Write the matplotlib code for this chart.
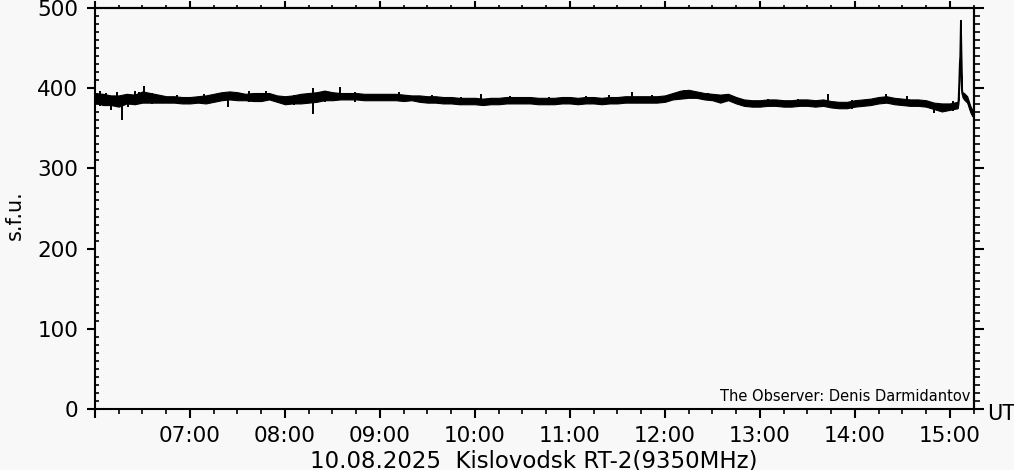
import numpy as np
import matplotlib
matplotlib.use("Agg")
import matplotlib.pyplot as plt
from matplotlib.ticker import MultipleLocator, FuncFormatter

# 5-minute samples from 06:00 to 15:05 (s.f.u.)
sample_start = "06:00"
sample_step_min = 5
flux = [
    388, 386, 385, 384, 387, 386, 389, 388, 387, 386, 386, 385,
    385, 386, 386, 388, 390, 391, 390, 389, 389, 389, 390, 387,
    385, 386, 387, 388, 389, 391, 390, 390, 390, 390, 389, 389,
    389, 389, 389, 388, 388, 387, 386, 386, 385, 385, 384, 384,
    384, 383, 384, 384, 385, 385, 385, 385, 384, 384, 384, 385,
    385, 384, 385, 385, 384, 385, 385, 386, 386, 386, 386, 386,
    387, 390, 392, 393, 392, 390, 389, 387, 389, 385, 382, 381,
    381, 382, 382, 381, 381, 382, 382, 381, 382, 380, 379, 379,
    381, 382, 383, 385, 386, 384, 383, 382, 382, 381, 378, 376,
    377, 379,
]
# half width of the noise band
noise = [
    6, 7, 6, 7, 6, 6, 7, 6, 5, 4, 4, 4,
    4, 4, 5, 5, 5, 5, 5, 4, 5, 5, 4, 4,
    5, 5, 6, 6, 6, 6, 5, 4, 4, 4, 4, 4,
    4, 4, 4, 4, 3, 4, 4, 4, 4, 4, 4, 4,
    4, 4, 4, 4, 4, 4, 4, 4, 4, 4, 4, 4,
    4, 4, 4, 4, 4, 4, 4, 4, 4, 4, 4, 4,
    4, 4, 5, 5, 4, 4, 4, 5, 4, 4, 4, 4,
    4, 4, 4, 4, 4, 4, 4, 4, 4, 4, 4, 4,
    4, 4, 4, 4, 4, 4, 4, 4, 4, 4, 4, 5,
    4, 4,
]

# flare at the end of the record (minutes after 15:00)
flare_min = [5.5, 6.0, 6.3, 6.6, 7.0, 7.3, 7.6, 8.0, 9.0, 10.0, 11.0, 12.0, 13.0, 14.0, 14.4]
flare_flux = [384, 410, 430, 440, 484, 420, 398, 392, 390, 388, 386, 380, 374, 370, 368]
flare_noise = [3, 1, 1, 1, 1, 1, 2, 3, 4, 4, 4, 4, 4, 4, 3]

# isolated spikes and small excursions out of the band
spike_time = ["06:03", "06:07", "06:10", "06:14", "06:17", "06:21", "06:25",
              "06:28", "06:31", "06:36", "06:52", "07:09", "07:24", "07:37",
              "07:48", "08:06", "08:18", "08:25", "08:35", "08:44", "09:12",
              "09:33", "09:51", "10:04", "10:22", "10:47", "11:10", "11:25",
              "11:39", "11:52", "12:12", "12:27", "12:40", "13:05", "13:24",
              "13:43", "13:58", "14:20", "14:33", "14:50", "15:02"]
spike_lo = [378, 380, 373, 378, 360, 377, 379, 380, 385, 380, 381, 382,
            377, 383, 384, 379, 368, 383, 388, 383, 384, 382, 379, 383,
            380, 379, 380, 381, 385, 382, 386, 385, 384, 377, 377, 380,
            374, 385, 378, 369, 372]
spike_hi = [396, 394, 390, 395, 388, 393, 396, 395, 403, 394, 391, 393,
            390, 396, 396, 391, 400, 397, 401, 395, 395, 392, 389, 393,
            390, 389, 390, 391, 395, 392, 398, 394, 393, 386, 387, 393,
            385, 393, 390, 380, 384]


def to_hours(s):
    h, m = s.split(":")
    return int(h) + int(m) / 60.0


t0 = to_hours(sample_start)
t = t0 + np.arange(len(flux)) * sample_step_min / 60.0
t = np.concatenate([t, 15 + np.array(flare_min) / 60.0])
y = np.concatenate([flux, flare_flux]).astype(float)
hw = np.concatenate([noise, flare_noise]).astype(float)

bg = "#f8f8f8"
plt.rcParams['font.family'] = ['DejaVu Sans']

fig = plt.figure(figsize=(10.14, 4.70), dpi=100, facecolor=bg)
ax = fig.add_axes([95 / 1014, 61 / 470, 878.5 / 1014, 401 / 470], facecolor=bg)

ax.fill_between(t, y - hw, y + hw, color="black", lw=0.8)
ax.plot(t, y, color="black", lw=1.2)
ax.vlines([to_hours(s) for s in spike_time], spike_lo, spike_hi, color="black", lw=1.4)

ax.set_xlim(6.0, 15.25)
ax.set_ylim(0, 500)

for sp in ax.spines.values():
    sp.set_linewidth(1.5)

# y axis: major out, minor in on the left
ax.yaxis.set_major_locator(MultipleLocator(100))
ax.yaxis.set_minor_locator(MultipleLocator(10))
ax.tick_params(axis='y', which='major', direction='out', length=6, width=1.5,
               labelsize=15.5, pad=6, right=False)
ax.tick_params(axis='y', which='minor', direction='in', length=3, width=1.2, right=False)

# x axis
ax.xaxis.set_major_locator(MultipleLocator(1))
ax.xaxis.set_minor_locator(MultipleLocator(0.25))
ax.xaxis.set_major_formatter(FuncFormatter(
    lambda v, p: "" if v < 6.5 else "%02d:00" % int(round(v))))
ax.tick_params(axis='x', which='major', direction='out', length=6.5, width=1.5,
               labelsize=15.5, pad=6, top=False)
ax.tick_params(axis='x', which='minor', direction='out', length=3.4, width=1.2, top=False)

# right and top axes
ry = ax.secondary_yaxis('right')
ry.yaxis.set_major_locator(MultipleLocator(100))
ry.yaxis.set_minor_locator(MultipleLocator(10))
ry.tick_params(which='major', direction='out', length=7.2, width=1.5, labelright=False)
ry.tick_params(which='minor', direction='out', length=4, width=1.2)
ry.spines['right'].set_linewidth(1.5)

tx = ax.secondary_xaxis('top')
tx.xaxis.set_major_locator(MultipleLocator(1))
tx.xaxis.set_minor_locator(MultipleLocator(0.25))
tx.tick_params(which='major', direction='out', length=5, width=1.5, labeltop=False)
tx.tick_params(which='minor', direction='out', length=2.5, width=1.2)
tx.spines['top'].set_linewidth(1.5)

fig.text(15 / 1014, 1 - 215 / 470, "s.f.u.", rotation=90, fontsize=15,
         ha='center', va='center')
fig.text(987 / 1014, 1 - 414 / 470, "UT", fontsize=15, ha='left', va='center')
fig.text(534 / 1014, 1 - 449 / 470, "10.08.2025  Kislovodsk RT-2(9350MHz)",
         fontsize=16.5, ha='center', va='top')
ax.text(0.997, 0.012, "The Observer: Denis Darmidantov", transform=ax.transAxes,
        fontsize=10.5, ha='right', va='bottom')

fig.savefig("out.png", dpi=100, facecolor=bg)
